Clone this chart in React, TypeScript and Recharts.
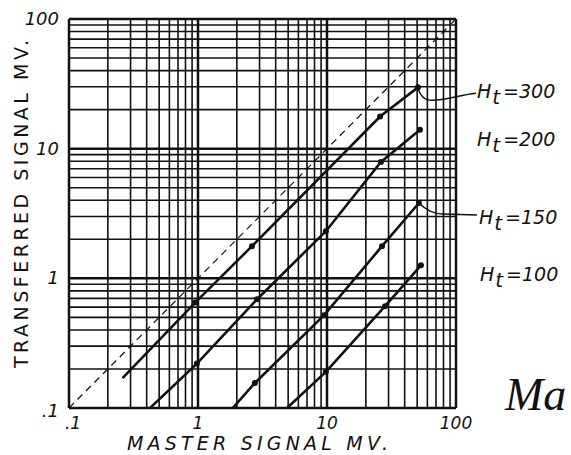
import React from "react";
import {
  LineChart,
  Line,
  XAxis,
  YAxis,
  ReferenceLine,
  ReferenceDot
} from "recharts";

// readings off the log-log sheet (m = drawn dot)
const ht300 = [
  { x: 0.26, y: 0.17, m: 0 },
  { x: 0.95, y: 0.65, m: 1 },
  { x: 2.62, y: 1.77, m: 1 },
  { x: 25.8, y: 17.7, m: 1 },
  { x: 50.7, y: 29.7, m: 1 }
];
const ht200 = [
  { x: 0.425, y: 0.1, m: 0 },
  { x: 0.98, y: 0.22, m: 1 },
  { x: 2.87, y: 0.69, m: 1 },
  { x: 9.8, y: 2.31, m: 1 },
  { x: 26.2, y: 7.9, m: 1 },
  { x: 52.6, y: 14.0, m: 1 }
];
const ht150 = [
  { x: 1.86, y: 0.1, m: 0 },
  { x: 2.76, y: 0.156, m: 1 },
  { x: 9.5, y: 0.52, m: 1 },
  { x: 26.7, y: 1.77, m: 1 },
  { x: 51.6, y: 3.81, m: 1 }
];
const ht100 = [
  { x: 4.9, y: 0.1, m: 0 },
  { x: 9.8, y: 0.19, m: 1 },
  { x: 28.2, y: 0.61, m: 1 },
  { x: 53.5, y: 1.26, m: 1 }
];
const unity = [
  { x: 0.1, y: 0.1, m: 0 },
  { x: 100, y: 100, m: 0 }
];

const decades = [0.1, 1, 10, 100];
const htNames = ["300", "200", "150", "100"];

const gridValues: number[] = [];
[0.1, 1, 10].forEach((d) => {
  for (let k = 1; k <= 9; k++) gridValues.push(+(k * d).toFixed(2));
});
gridValues.push(100);

const INK = "#111";
const HAND = "'DejaVu Sans', sans-serif";

const tickText = (v: number) => (v === 0.1 ? ".1" : String(v));

function XTick(props: any) {
  const { x, y, payload } = props;
  const shift = payload.value === 0.1 ? 4 : 0;
  return (
    <text
      x={x + shift}
      y={y + 13}
      textAnchor="middle"
      fontFamily={HAND}
      fontStyle="italic"
      fontSize={17}
      fill={INK}
    >
      {tickText(payload.value)}
    </text>
  );
}

function YTick(props: any) {
  const { x, y, payload } = props;
  const dy = payload.value === 0.1 ? 9 : 6;
  return (
    <text
      x={x - 2}
      y={y + dy}
      textAnchor="end"
      fontFamily={HAND}
      fontStyle="italic"
      fontSize={18}
      fill={INK}
    >
      {tickText(payload.value)}
    </text>
  );
}

function renderDot(props: any) {
  const { cx, cy, payload, index } = props;
  if (!payload || !payload.m) return <g key={"d" + index} />;
  return <circle key={"d" + index} cx={cx} cy={cy} r={3} fill={INK} />;
}

// label placement next to each curve's last dot
const labelStyle: Record<string, { dx: number; dy: number; leader: string }> = {
  "300": { dx: 59, dy: 11, leader: "M0 0 C 2 8, 6 13, 14 13 C 28 13, 40 8, 58 6" },
  "200": { dx: 57, dy: 16, leader: "" },
  "150": { dx: 60, dy: 21, leader: "M0 0 C 6 6, 14 11, 24 11 L 58 12" },
  "100": { dx: 59, dy: 16, leader: "" }
};

function htLabel(name: string) {
  return (p: any) => {
    const s = labelStyle[name];
    const tx = p.cx + s.dx;
    const ty = p.cy + s.dy;
    return (
      <g>
        {s.leader && (
          <path
            d={s.leader}
            transform={`translate(${p.cx},${p.cy})`}
            fill="none"
            stroke={INK}
            strokeWidth={1.5}
          />
        )}
        <text
          x={tx}
          y={ty}
          fontFamily={HAND}
          fontStyle="italic"
          fontSize={19}
          fill={INK}
        >
          H
          <tspan dx={1} dy={6} fontSize={20}>t</tspan>
          <tspan dx={3} dy={-6}>={name}</tspan>
        </text>
      </g>
    );
  };
}

const series = [ht300, ht200, ht150, ht100];

export default function App() {
  return (
    <div
      style={{
        position: "absolute",
        left: 0,
        top: 0,
        width: 571,
        height: 455,
        background: "#fff"
      }}
    >
      <LineChart
        width={571}
        height={455}
        margin={{ top: 19, right: 115, bottom: 17, left: 29 }}
      >
        <XAxis
          type="number"
          dataKey="x"
          scale="log"
          domain={[0.1, 100]}
          ticks={decades}
          allowDataOverflow
          axisLine={false}
          tickLine={false}
          height={30}
          tick={<XTick />}
        />
        <YAxis
          type="number"
          dataKey="y"
          scale="log"
          domain={[0.1, 100]}
          ticks={decades}
          allowDataOverflow
          axisLine={false}
          tickLine={false}
          width={40}
          tick={<YTick />}
        />

        {gridValues.map((v) => (
          <ReferenceLine
            key={"gx" + v}
            x={v}
            stroke={INK}
            strokeWidth={decades.includes(v) ? 2.5 : 1.6}
          />
        ))}
        {gridValues.map((v) => (
          <ReferenceLine
            key={"gy" + v}
            y={v}
            stroke={INK}
            strokeWidth={decades.includes(v) ? 2.5 : 1.6}
          />
        ))}

        <Line
          data={unity}
          dataKey="y"
          stroke={INK}
          strokeWidth={1.2}
          strokeDasharray="7 5"
          dot={false}
          isAnimationActive={false}
        />
        {series.map((s, i) => (
          <Line
            key={htNames[i]}
            data={s}
            dataKey="y"
            stroke={INK}
            strokeWidth={2.6}
            dot={renderDot}
            activeDot={false}
            isAnimationActive={false}
          />
        ))}

        {series.map((s, i) => (
          <ReferenceDot
            key={"lab" + htNames[i]}
            x={s[s.length - 1].x}
            y={s[s.length - 1].y}
            r={0}
            ifOverflow="visible"
            shape={htLabel(htNames[i])}
          />
        ))}
      </LineChart>

      <svg
        width={571}
        height={455}
        style={{ position: "absolute", left: 0, top: 0, pointerEvents: "none" }}
      >
        <text
          x={127}
          y={450}
          textLength={261}
          lengthAdjust="spacing"
          fontFamily={HAND}
          fontStyle="italic"
          fontSize={19}
          fill={INK}
        >
          MASTER SIGNAL MV.
        </text>
        <text
          transform="translate(28,368) rotate(-90)"
          x={0}
          y={0}
          textLength={328}
          lengthAdjust="spacing"
          fontFamily={HAND}
          fontSize={19}
          fill={INK}
        >
          TRANSFERRED SIGNAL MV.
        </text>
        <text
          x={505}
          y={410}
          fontFamily="'Liberation Serif', serif"
          fontStyle="italic"
          fontSize={46}
          fill={INK}
        >
          Ma
        </text>
      </svg>
    </div>
  );
}
